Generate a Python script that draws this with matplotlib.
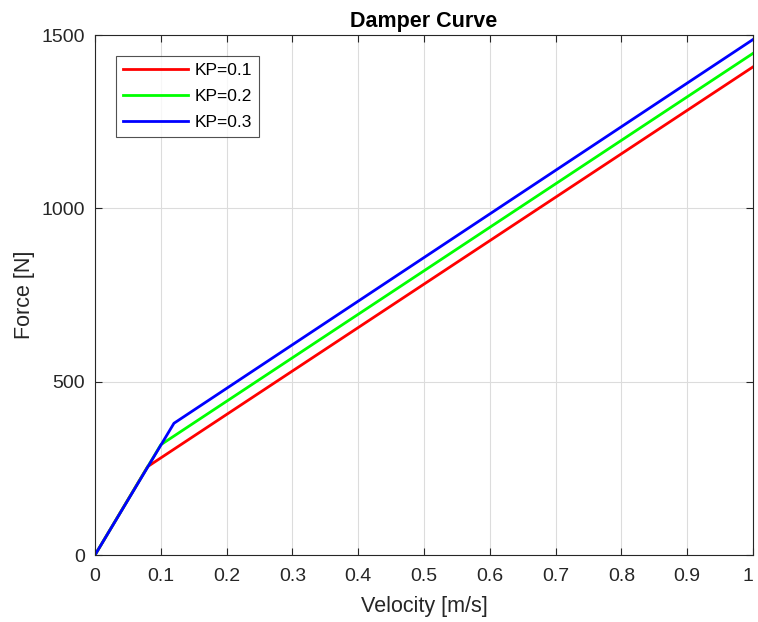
import matplotlib
matplotlib.use("Agg")
import matplotlib.pyplot as plt

plt.rcParams['font.family'] = ['Liberation Sans', 'DejaVu Sans']

# Piecewise damper curves: (velocity, force) break points per KP setting
velocity_red = [0.0, 0.08, 1.0]
force_red = [0.0, 255.0, 1408.0]
velocity_green = [0.0, 0.10, 1.0]
force_green = [0.0, 318.0, 1447.0]
velocity_blue = [0.0, 0.12, 1.0]
force_blue = [0.0, 380.0, 1487.0]
labels = ['KP=0.1', 'KP=0.2', 'KP=0.3']
x_ticks = [0, 0.1, 0.2, 0.3, 0.4, 0.5, 0.6, 0.7, 0.8, 0.9, 1]
x_tick_labels = ['0', '0.1', '0.2', '0.3', '0.4', '0.5', '0.6', '0.7', '0.8', '0.9', '1']
y_ticks = [0, 500, 1000, 1500]

W, H = 758, 622
fig = plt.figure(figsize=(W / 100, H / 100), dpi=100)
ax = fig.add_axes([95 / W, 67 / H, 658 / W, 520 / H])

text_col = '#262626'
lw = 2.0
ax.plot(velocity_red, force_red, color='#ff0000', lw=lw, label=labels[0])
ax.plot(velocity_green, force_green, color='#00ff00', lw=lw, label=labels[1])
ax.plot(velocity_blue, force_blue, color='#0000ff', lw=lw, label=labels[2])

ax.set_xlim(0, 1)
ax.set_ylim(0, 1500)
ax.set_xticks(x_ticks)
ax.set_xticklabels(x_tick_labels)
ax.set_yticks(y_ticks)
ax.grid(True, color='#dcdcdc', lw=0.8)
ax.set_axisbelow(True)
ax.tick_params(direction='in', top=True, right=True, labelsize=14,
               colors=text_col, length=5, width=0.8)
ax.tick_params(axis='x', pad=9.5)
ax.tick_params(axis='y', pad=7)
ax.get_xticklabels()[-1].set_horizontalalignment('right')
for s in ax.spines.values():
    s.set_color(text_col)
    s.set_linewidth(0.8)

ax.set_xlabel('Velocity [m/s]', fontsize=15.5, color=text_col, labelpad=8)
ax.set_ylabel('Force [N]', fontsize=15.5, color=text_col, labelpad=5)
ax.set_title('Damper Curve', fontsize=15.5, fontweight='bold', pad=6)

leg = ax.legend(loc='upper left', bbox_to_anchor=(21 / 658, 499 / 520),
                borderaxespad=0, fontsize=12.5,
                frameon=True, fancybox=False, edgecolor=text_col,
                handlelength=3.75, handletextpad=0.4, borderpad=0.4,
                labelspacing=0.62)
leg.get_frame().set_linewidth(0.8)

fig.savefig('out.png', dpi=100)
